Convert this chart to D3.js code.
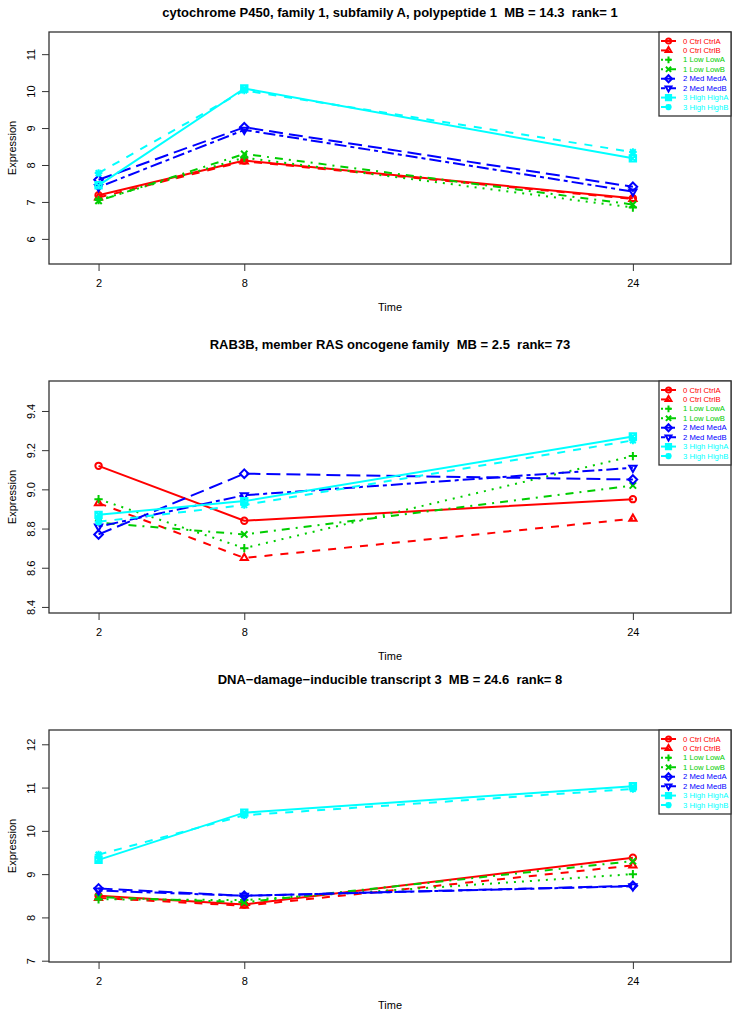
<!DOCTYPE html>
<html><head><meta charset="utf-8">
<script src="https://cdn.jsdelivr.net/npm/d3@7"></script>
<style>body{margin:0;background:#fff}svg{display:block}text{font-family:"Liberation Sans",Arial,Helvetica,sans-serif;white-space:pre}</style>
</head><body><svg id="c" width="734" height="1014"></svg>
<script>
// ---------- data ----------
const times = [2, 8, 24];
const xTicks = [2, 8, 24];
const seriesNames = ["0 Ctrl CtrlA","0 Ctrl CtrlB","1 Low LowA","1 Low LowB","2 Med MedA","2 Med MedB","3 High HighA","3 High HighB"];
const titles = [
  "cytochrome P450, family 1, subfamily A, polypeptide 1  MB = 14.3  rank= 1",
  "RAB3B, member RAS oncogene family  MB = 2.5  rank= 73",
  "DNA\u2212damage\u2212inducible transcript 3  MB = 24.6  rank= 8"
];
const panel1Values = [
  [7.18, 8.12, 7.10],
  [7.12, 8.10, 7.08],
  [7.05, 8.20, 6.85],
  [7.03, 8.30, 6.93],
  [7.60, 9.02, 7.41],
  [7.40, 8.95, 7.28],
  [7.45, 10.07, 8.18],
  [7.78, 10.02, 8.35]
];
const panel2Values = [
  [9.12, 8.84, 8.95],
  [8.93, 8.65, 8.85],
  [8.95, 8.70, 9.17],
  [8.83, 8.77, 9.02],
  [8.77, 9.08, 9.05],
  [8.81, 8.97, 9.11],
  [8.87, 8.94, 9.27],
  [8.835, 8.92, 9.25]
];
const panel3Values = [
  [8.50, 8.30, 9.38],
  [8.45, 8.27, 9.20],
  [8.42, 8.40, 9.00],
  [8.47, 8.35, 9.30],
  [8.67, 8.50, 8.73],
  [8.62, 8.50, 8.72],
  [9.33, 10.42, 11.03],
  [9.45, 10.36, 10.97]
];
const panel1YTicks = [6, 7, 8, 9, 10, 11];
const panel2YTicks = [8.4, 8.6, 8.8, 9.0, 9.2, 9.4];
const panel3YTicks = [7, 8, 9, 10, 11, 12];
const panel1YLim = [5.32, 11.6];
const panel2YLim = [8.369, 9.553];
const panel3YLim = [6.97, 12.33];
const xLim = [-0.04, 28.04];

// ---------- styles ----------
const colors = ["#FF0000","#FF0000","#00CD00","#00CD00","#0000FF","#0000FF","#00FFFF","#00FFFF"];
const dashes = ["", "8,8", "2,6", "2,6,8,6", "14,6", "4,4,12,4", "", "8,8"];
const pchs = [1,2,3,4,5,6,7,8];

const panels = [
  {title: titles[0], values: panel1Values, ticks: panel1YTicks, ylim: panel1YLim, fmt: d3.format("d"), top: 32, titleY: 17},
  {title: titles[1], values: panel2Values, ticks: panel2YTicks, ylim: panel2YLim, fmt: d3.format(".1f"), top: 381, titleY: 349},
  {title: titles[2], values: panel3Values, ticks: panel3YTicks, ylim: panel3YLim, fmt: d3.format("d"), top: 730, titleY: 684}
];
const L = 49, R = 731, H = 232;
const svg = d3.select("#c");

function marker(g, pch, x, y, col, r) {
  const p = d3.path();
  const s = g.append("path").attr("fill","none").attr("stroke",col).attr("stroke-width",2);
  if (pch === 1) { p.arc(x, y, r, 0, 2*Math.PI); }
  else if (pch === 2) { const a=r*1.3; p.moveTo(x, y-a); p.lineTo(x+a*0.866, y+a*0.5); p.lineTo(x-a*0.866, y+a*0.5); p.closePath(); }
  else if (pch === 6) { const a=r*1.3; p.moveTo(x, y+a); p.lineTo(x+a*0.866, y-a*0.5); p.lineTo(x-a*0.866, y-a*0.5); p.closePath(); }
  else if (pch === 3) { const a=r*1.3; p.moveTo(x-a,y); p.lineTo(x+a,y); p.moveTo(x,y-a); p.lineTo(x,y+a); }
  else if (pch === 4) { const a=r; p.moveTo(x-a,y-a); p.lineTo(x+a,y+a); p.moveTo(x-a,y+a); p.lineTo(x+a,y-a); }
  else if (pch === 5) { const a=r*1.35; p.moveTo(x,y-a); p.lineTo(x+a,y); p.lineTo(x,y+a); p.lineTo(x-a,y); p.closePath(); }
  else if (pch === 7) { const a=r; p.rect(x-a,y-a,2*a,2*a); p.moveTo(x-a,y-a); p.lineTo(x+a,y+a); p.moveTo(x-a,y+a); p.lineTo(x+a,y-a); }
  else if (pch === 8) { const a=r*1.2, b=r*0.9; p.moveTo(x-a,y); p.lineTo(x+a,y); p.moveTo(x,y-a); p.lineTo(x,y+a); p.moveTo(x-b,y-b); p.lineTo(x+b,y+b); p.moveTo(x-b,y+b); p.lineTo(x+b,y-b); }
  s.attr("d", p.toString());
}

panels.forEach(pn => {
  const top = pn.top, bottom = top + H;
  const x = d3.scaleLinear().domain(xLim).range([L, R]);
  const y = d3.scaleLinear().domain(pn.ylim).range([bottom, top]);
  const g = svg.append("g");

  // title
  g.append("text").attr("x", (L+R)/2).attr("y", pn.titleY).attr("text-anchor","middle")
    .attr("font-size", 13).attr("font-weight","bold").attr("xml:space","preserve").text(pn.title);

  // axes
  const xa = g.append("g").attr("transform",`translate(0,${bottom})`)
    .call(d3.axisBottom(x).tickValues(xTicks).tickSize(7).tickPadding(8).tickFormat(d3.format("d")));
  xa.select(".domain").remove();
  xa.selectAll("line").attr("stroke","#333");
  xa.selectAll("text").attr("font-size", 11).attr("font-family",'"Liberation Sans",Arial,sans-serif').attr("fill","#000");

  const ya = g.append("g").attr("transform",`translate(${L},0)`)
    .call(d3.axisLeft(y).tickValues(pn.ticks).tickSize(7).tickFormat(pn.fmt));
  ya.select(".domain").remove();
  ya.selectAll("line").attr("stroke","#333");
  ya.selectAll("text").attr("font-size", 11).attr("font-family",'"Liberation Sans",Arial,sans-serif').attr("fill","#000")
    .attr("text-anchor","middle").attr("x", null).attr("dy", null)
    .attr("transform", "translate(-18,0) rotate(-90)").attr("dominant-baseline","central");

  g.append("text").attr("x",(L+R)/2).attr("y", bottom + 47).attr("text-anchor","middle").attr("font-size",11).text("Time");
  g.append("text").attr("transform",`translate(12,${(top+bottom)/2}) rotate(-90)`).attr("text-anchor","middle")
    .attr("dominant-baseline","central").attr("font-size",11).text("Expression");

  // series
  const line = d3.line().x((d,i) => x(times[i])).y(d => y(d));
  pn.values.forEach((vals, si) => {
    g.append("path").attr("d", line(vals)).attr("fill","none").attr("stroke",colors[si])
      .attr("stroke-width",2).attr("stroke-dasharray",dashes[si]);
    vals.forEach((v,i) => marker(g, pchs[si], x(times[i]), y(v), colors[si], 3.2));
  });

  // box
  g.append("rect").attr("x",L).attr("y",top).attr("width",R-L).attr("height",H)
    .attr("fill","none").attr("stroke","#333").attr("stroke-width",1.3);

  // legend
  const lg = g.append("g");
  const lx = 659, lw = R - lx, lh = 84;
  lg.append("rect").attr("x",lx).attr("y",top).attr("width",lw).attr("height",lh)
    .attr("fill","#fff").attr("stroke","#333").attr("stroke-width",1.3);
  seriesNames.forEach((nm, si) => {
    const ey = top + 9 + si*9.43;
    lg.append("line").attr("x1",661).attr("x2",676).attr("y1",ey).attr("y2",ey)
      .attr("stroke",colors[si]).attr("stroke-width",2).attr("stroke-dasharray",dashes[si]);
    marker(lg, pchs[si], 668.5, ey, colors[si], 2.6);
    lg.append("text").attr("x",683).attr("y",ey).attr("dominant-baseline","central")
      .attr("font-size",7.7).attr("fill",colors[si]).text(nm);
  });
});
</script></body></html>
